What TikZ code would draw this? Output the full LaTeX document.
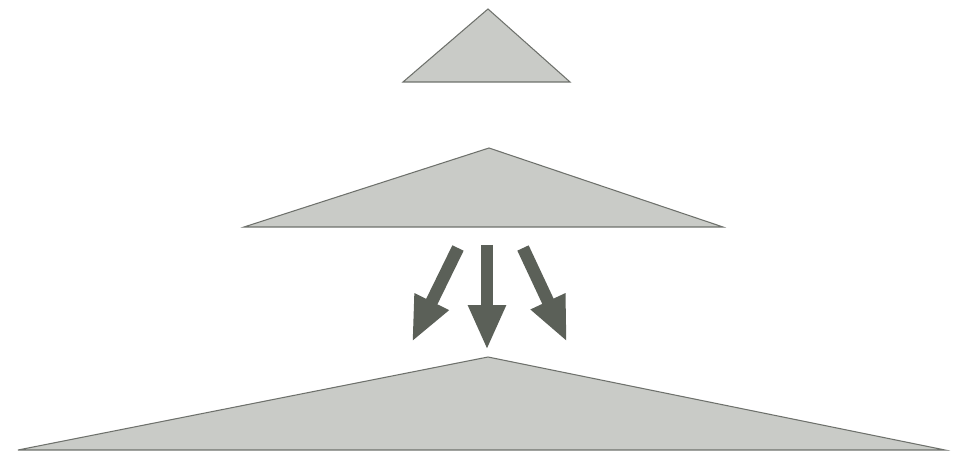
\documentclass[tikz,border=0pt]{standalone}
\usetikzlibrary{arrows.meta}
\definecolor{trifill}{HTML}{C9CBC7}
\definecolor{triedge}{HTML}{6E716C}
\definecolor{arrowcol}{HTML}{5B6058}
\begin{document}
\begin{tikzpicture}[x=0.02cm,y=-0.02cm,
  tri/.style={fill=trifill,draw=triedge,line width=0.6pt,line join=miter},
  blockarrow/.style={draw=arrowcol,line width=0.25cm,-{Triangle[length=0.9cm,width=0.7cm]},color=arrowcol}]
\useasboundingbox (0,0) rectangle (957,452);
\fill[white] (0,0) rectangle (957,452);
% triangles
\coordinate (t1a) at (488,9);
\coordinate (t1l) at (403,82);
\coordinate (t1r) at (570,82);
\coordinate (t2a) at (489,148);
\coordinate (t2l) at (244,227);
\coordinate (t2r) at (723,227);
\coordinate (t3a) at (488,357);
\coordinate (t3l) at (18,450);
\coordinate (t3r) at (945,450);
\draw[tri] (t1l) -- (t1a) -- (t1r) -- cycle;
\draw[tri] (t2l) -- (t2a) -- (t2r) -- cycle;
\draw[tri] (t3l) -- (t3a) -- (t3r) -- cycle;
% arrows
\coordinate (a1s) at (458,248);
\coordinate (a1e) at (412,342);
\coordinate (a2s) at (487,245);
\coordinate (a2e) at (487,350);
\coordinate (a3s) at (523,248);
\coordinate (a3e) at (567,342);
\draw[blockarrow] (a1s) -- (a1e);
\draw[blockarrow] (a2s) -- (a2e);
\draw[blockarrow] (a3s) -- (a3e);
\end{tikzpicture}
\end{document}
